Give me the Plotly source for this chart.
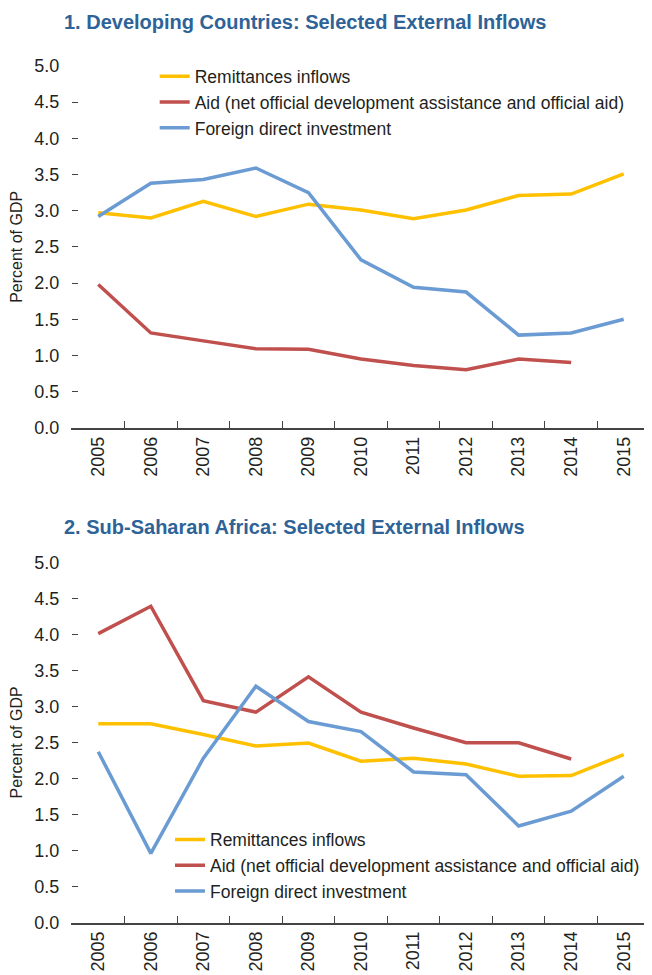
import plotly.graph_objects as go

years = ["2005", "2006", "2007", "2008", "2009", "2010", "2011", "2012", "2013", "2014", "2015"]

# Panel 1: Developing countries (percent of GDP)
dev_remit = [2.97, 2.90, 3.13, 2.92, 3.09, 3.01, 2.89, 3.01, 3.21, 3.23, 3.51]
dev_aid = [1.98, 1.31, 1.20, 1.09, 1.085, 0.95, 0.86, 0.80, 0.95, 0.90, None]
dev_fdi = [2.92, 3.38, 3.43, 3.59, 3.25, 2.32, 1.94, 1.875, 1.28, 1.31, 1.50]

# Panel 2: Sub-Saharan Africa (percent of GDP)
ssa_remit = [2.76, 2.76, 2.61, 2.45, 2.49, 2.24, 2.28, 2.20, 2.03, 2.04, 2.33]
ssa_aid = [4.01, 4.39, 3.08, 2.92, 3.41, 2.92, 2.70, 2.495, 2.495, 2.27, None]
ssa_fdi = [2.37, 0.96, 2.28, 3.28, 2.79, 2.65, 2.09, 2.05, 1.34, 1.545, 2.03]

series_names = ["Remittances inflows",
                "Aid (net official development assistance and official aid)",
                "Foreign direct investment"]
colors = ["#FFC000", "#C0504D", "#6A9BD3"]

y_ticks = [0, 0.5, 1, 1.5, 2, 2.5, 3, 3.5, 4, 4.5, 5]
y_ticktext = ["0.0", "0.5", "1.0", "1.5", "2.0", "2.5", "3.0", "3.5", "4.0", "4.5", "5.0"]

titles = ["1. Developing Countries: Selected External Inflows",
          "2. Sub-Saharan Africa: Selected External Inflows"]

# the page body adds an 8px margin, so the figure is 8px smaller on each side
OFF = 8
W, H = 652 - OFF, 975 - OFF
FONT = "Liberation Sans, Arial, sans-serif"
TXT = "#231F20"
BLUE = "#2E6398"

fig = go.Figure()

panels = [(dev_remit, dev_aid, dev_fdi), (ssa_remit, ssa_aid, ssa_fdi)]
for p, data in enumerate(panels):
    xa = "x" if p == 0 else "x2"
    ya = "y" if p == 0 else "y2"
    lg = "legend" if p == 0 else "legend2"
    for name, vals, col in zip(series_names, data, colors):
        fig.add_trace(go.Scatter(
            x=years, y=vals, name=name, mode="lines",
            line=dict(color=col, width=3.5),
            xaxis=xa, yaxis=ya, legend=lg, connectgaps=False,
            hoverinfo="skip"))

def px_x(v):
    # v: page pixel
    return (v - OFF) / W

def px_y(v):
    return 1 - (v - OFF) / H

xdom = [px_x(72), px_x(650)]
ydoms = [[px_y(427.7), px_y(66)], [px_y(922.5), px_y(562.3)]]

axis_x = dict(type="category", range=[-0.5, 10.5], tickson="boundaries",
              ticks="inside", ticklen=7, tickwidth=1.3, tickcolor="#444",
              showline=True, linecolor="#444", linewidth=1.5,
              showgrid=False, zeroline=False, tickangle=-90,
              tickfont=dict(family=FONT, size=18, color=TXT),
              domain=xdom, fixedrange=True, automargin=False)

axis_y = dict(range=[0, 5], tickvals=y_ticks, ticktext=y_ticktext,
              ticks="inside", ticklen=6, tickwidth=1.3, tickcolor="#444",
              showline=True, linecolor="rgba(0,0,0,0)", mirror="ticks",
              showgrid=False, zeroline=False,
              tickfont=dict(family=FONT, size=18, color=TXT),
              ticklabelstandoff=8, automargin=False,
              title=dict(text="Percent of GDP", font=dict(family=FONT, size=16, color=TXT), standoff=8),
              fixedrange=True)

fig.update_layout(
    width=W, height=H,
    margin=dict(l=0, r=0, t=0, b=0, autoexpand=False),
    paper_bgcolor="white", plot_bgcolor="white",
    showlegend=True,
    xaxis=dict(axis_x, anchor="y"),
    yaxis=dict(axis_y, domain=ydoms[0], anchor="x"),
    xaxis2=dict(axis_x, anchor="y2"),
    yaxis2=dict(axis_y, domain=ydoms[1], anchor="x2"),
    legend=dict(x=px_x(154.7), y=px_y(58.3), xanchor="left", yanchor="top",
                bgcolor="rgba(0,0,0,0)", font=dict(family=FONT, size=17.5, color=TXT),
                tracegroupgap=0, itemwidth=30),
    legend2=dict(x=px_x(170), y=px_y(821.7), xanchor="left", yanchor="top",
                 bgcolor="rgba(0,0,0,0)", font=dict(family=FONT, size=17.5, color=TXT),
                 tracegroupgap=0, itemwidth=30),
    annotations=[
        dict(text="<b>" + titles[0] + "</b>", x=px_x(62), y=px_y(22), xref="paper", yref="paper",
             xanchor="left", yanchor="middle", showarrow=False,
             font=dict(family=FONT, size=20, color=BLUE)),
        dict(text="<b>" + titles[1] + "</b>", x=px_x(62), y=px_y(527), xref="paper", yref="paper",
             xanchor="left", yanchor="middle", showarrow=False,
             font=dict(family=FONT, size=20, color=BLUE)),
    ],
)

fig.write_html("out.html")
